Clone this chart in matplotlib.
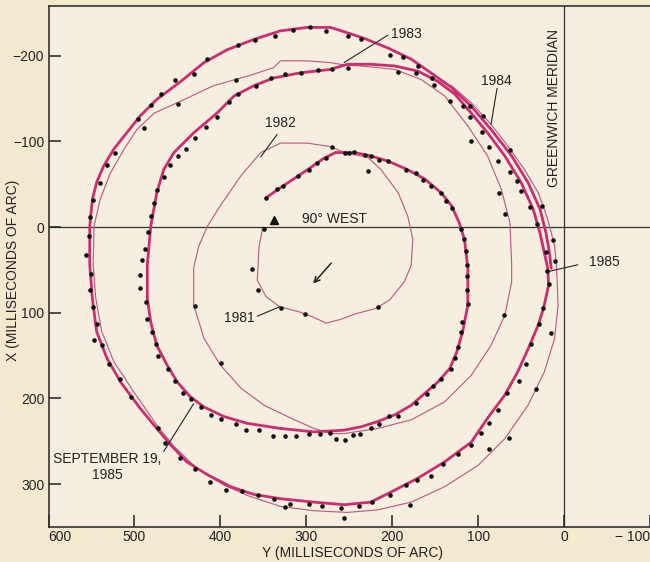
import matplotlib.pyplot as plt

# polar motion path, (Y, X) in milliseconds of arc
thin_path = [
    (351, 2), (355, 23), (357, 62), (347, 81), (331, 93), (308, 99), (292, 105),
    (277, 112), (261, 108), (242, 101), (219, 95), (203, 85), (186, 64), (178, 45),
    (176, 14), (182, -13), (193, -40), (213, -67), (228, -81), (256, -87),
    (272, -94), (299, -98), (330, -98), (353, -87), (376, -60), (400, -25),
    (415, -1), (425, 22), (431, 47), (431, 91), (419, 130), (400, 161), (376, 188),
    (349, 208), (318, 223), (291, 235), (272, 241), (256, 241), (217, 235),
    (178, 225), (139, 204), (108, 173), (85, 138), (69, 103), (61, 64), (61, 44),
    (63, -5), (73, -44), (89, -83), (112, -118), (139, -153), (166, -172),
    (197, -184), (236, -188), (255, -189), (272, -192), (300, -194), (330, -194),
    (338, -186), (369, -176), (408, -165), (446, -147), (477, -133), (497, -114),
    (512, -91), (528, -63), (540, -32), (547, -1), (548, 44), (545, 83), (538, 122),
    (524, 157), (501, 192), (474, 231), (454, 256), (427, 282), (396, 301),
    (369, 313), (330, 326), (291, 331), (252, 333), (217, 330), (178, 321),
    (139, 303), (100, 278), (69, 247), (42, 208), (23, 169), (11, 130), (7, 91),
    (8, 64), (9, 44), (11, 22), (19, -9), (30, -40), (46, -67), (65, -94),
    (85, -120), (108, -145), (131, -165),
]

thick_path = [
    (15, 48), (17, 30), (21, 7), (28, -21), (42, -52), (61, -83), (85, -114),
    (108, -141), (131, -163), (155, -180), (178, -196), (205, -209), (232, -220),
    (256, -228), (272, -233), (299, -233), (330, -229), (361, -219), (392, -207),
    (419, -192), (446, -170), (474, -149), (493, -130), (509, -110), (524, -91),
    (536, -71), (544, -52), (549, -32), (552, -1), (552, 44), (549, 83), (544, 122),
    (532, 153), (516, 181), (493, 212), (474, 235), (458, 254), (439, 274),
    (415, 289), (388, 303), (361, 312), (330, 317), (291, 321), (256, 324),
    (225, 321), (201, 309), (170, 293), (139, 274), (108, 251), (89, 223),
    (69, 196), (54, 169), (40, 138), (30, 114), (24, 95), (18, 68), (19, 48),
    (23, 30), (28, 7), (36, -21), (50, -52), (69, -83), (89, -110), (108, -133),
    (127, -155), (147, -170), (170, -182), (197, -188), (225, -190), (252, -190),
    (272, -184), (307, -180), (338, -174), (361, -165), (384, -153), (404, -133),
    (431, -110), (454, -87), (466, -67), (474, -40), (481, -1), (485, 44),
    (485, 83), (481, 111), (474, 138), (462, 161), (450, 181), (435, 198),
    (419, 210), (396, 221), (369, 229), (330, 235), (291, 239), (256, 237),
    (236, 233), (217, 227), (197, 219), (178, 208), (162, 194), (147, 181),
    (133, 165), (125, 146), (118, 122), (112, 91), (112, 48), (116, 14),
    (122, -5), (131, -25), (143, -40), (162, -56), (182, -67), (205, -77),
    (225, -83), (244, -87), (256, -87), (266, -87), (280, -80), (297, -68),
    (315, -56), (333, -44), (347, -34),
]

# individual observations
dots_outer = [
    (556, 32), (553, 10), (552, -12), (548, -32), (540, -52), (532, -73), (523, -87),
    (496, -126), (481, -142), (469, -155), (453, -172), (431, -179), (415, -196),
    (380, -212), (360, -218), (336, -223), (315, -230), (296, -234), (277, -229),
    (252, -223), (236, -220), (203, -201), (188, -198), (170, -188), (133, -147),
    (118, -141), (110, -141), (94, -130), (87, -94), (63, -90), (63, -64),
    (55, -54), (40, -23), (26, -25), (13, 15), (11, 40),
    (551, 55), (552, 73), (548, 93), (543, 113), (547, 132), (538, 138), (530, 160),
    (517, 177), (504, 198), (473, 234), (464, 252), (447, 269), (429, 282),
    (412, 297), (394, 307), (375, 308), (356, 313), (338, 317), (325, 327),
    (319, 323), (297, 323), (282, 326), (260, 328), (256, 340),
    (20, 51), (18, 66), (24, 95), (29, 113), (39, 137), (44, 160), (53, 180),
    (66, 194), (77, 214), (87, 229), (97, 240), (108, 254), (124, 265), (141, 277),
    (155, 290), (171, 295), (184, 301), (202, 313), (224, 321), (239, 326),
]
dots_middle = [
    (491, 38), (488, 25), (484, 6), (481, -13), (477, -28), (474, -43), (466, -58),
    (459, -72), (449, -83), (440, -91), (429, -104), (417, -117), (404, -129),
    (390, -146), (379, -155), (359, -165), (341, -174), (325, -179), (306, -180),
    (286, -183), (270, -185), (252, -186), (193, -181), (172, -180), (154, -174),
    (151, -166), (109, -128), (96, -111), (77, -77), (50, -42), (32, -4), (21, 29),
]
dots_inner = [
    (347, -34), (334, -45), (327, -48), (310, -60), (297, -67), (288, -75),
    (277, -81), (270, -93), (255, -87), (250, -87), (244, -88), (232, -84),
    (225, -83), (215, -78), (205, -77), (228, -65), (184, -67), (172, -63),
    (164, -55), (155, -48), (143, -40), (137, -30), (131, -22), (120, 2),
    (116, 14), (114, 28), (113, 44), (113, 57), (113, 73), (112, 90), (119, 111),
    (120, 123), (124, 140), (127, 153), (132, 166), (143, 177), (153, 186),
    (160, 195), (172, 205), (193, 220), (204, 221), (215, 230), (225, 234),
    (237, 242), (246, 243), (255, 248), (266, 247), (272, 240), (284, 242),
    (297, 242), (312, 244), (325, 244), (339, 244), (355, 237), (370, 237),
    (382, 230), (399, 224), (411, 219), (422, 210), (434, 201), (444, 194),
    (453, 180), (461, 166), (473, 151), (475, 137), (479, 122), (485, 107),
    (486, 88), (493, 71), (494, 56),
]
dots_thin = [
    (349, 2), (363, 49), (356, 74), (330, 95), (301, 101), (217, 93), (429, 92),
    (399, 159), (70, 103), (69, -15), (76, -40), (108, -100), (489, -116),
    (449, -144), (382, -172), (15, 124), (33, 189), (64, 246), (87, 259), (179, 324),
]
start_mark = [(337, -8)]

y_ticks = [600, 500, 400, 300, 200, 100, 0, -100]
y_labels = ['600', '500', '400', '300', '200', '100', '0', '\u2212 100']
x_ticks = [-200, -100, 0, 100, 200, 300]
x_labels = ['\u2212200', '\u2212100', '0', '100', '200', '300']

plt.rcParams['font.family'] = ['Liberation Sans', 'DejaVu Sans']
ink = '#222222'

fig = plt.figure(figsize=(6.5, 5.62), dpi=100)
fig.patch.set_facecolor('#f4e9cf')
ax = fig.add_axes([48.5 / 650, 1 - 527 / 562, 1 - 48.5 / 650, 521 / 562])
ax.set_facecolor('#f6efdf')

ax.axhline(0, color='#333333', lw=0.9, zorder=1)
ax.axvline(0, color='#333333', lw=0.9, zorder=1)

ty, tx = zip(*thin_path)
ax.plot(ty, tx, color='#bd5d86', lw=0.85, zorder=2)
ky, kx = zip(*thick_path)
ax.plot(ky, kx, color='#cc2d70', lw=2.0, solid_capstyle='round', zorder=3)

for group in (dots_outer, dots_middle, dots_inner, dots_thin):
    gy, gx = zip(*group)
    ax.plot(gy, gx, 'o', color='#111111', ms=3.3, mec='none', zorder=4)

sy, sx = zip(*start_mark)
ax.plot(sy, sx, '^', color='#111111', ms=5.5, zorder=4)

ax.set_xlim(600, -100)
ax.set_ylim(350, -258)

ax.set_xticks(y_ticks)
ax.set_xticklabels(y_labels)
ax.set_yticks(x_ticks)
ax.set_yticklabels(x_labels)
ax.tick_params(direction='in', length=8.5, width=1.1, colors=ink, labelsize=10)
ax.tick_params(axis='x', pad=2.5)
ax.tick_params(axis='y', pad=3)
xl = ax.get_xticklabels()
xl[0].set_ha('left')
xl[-1].set_ha('right')

for side in ('left', 'bottom', 'top'):
    ax.spines[side].set_linewidth(1.2)
    ax.spines[side].set_color('#333333')
ax.spines['right'].set_visible(False)

ax.set_xlabel('Y (MILLISECONDS OF ARC)', fontsize=10, color=ink)
ax.xaxis.set_label_coords(0.505, -0.036)
ax.set_ylabel('X (MILLISECONDS OF ARC)', fontsize=10, color=ink)
ax.yaxis.set_label_coords(-0.047, 0.493)

leader = dict(arrowstyle='-', lw=0.8, color=ink, shrinkA=0, shrinkB=0)
ax.annotate('', xy=(331, 93), xytext=(357, 104), arrowprops=leader)
ax.text(378, 106, '1981', fontsize=10, color=ink, ha='center', va='center')
ax.annotate('', xy=(353, -82), xytext=(334, -108), arrowprops=leader)
ax.text(330, -121, '1982', fontsize=10, color=ink, ha='center', va='center')
ax.annotate('', xy=(256, -192), xytext=(205, -224), arrowprops=leader)
ax.text(184, -225, '1983', fontsize=10, color=ink, ha='center', va='center')
ax.annotate('', xy=(85, -120), xytext=(78, -162), arrowprops=leader)
ax.text(79, -170, '1984', fontsize=10, color=ink, ha='center', va='center')
ax.annotate('', xy=(19, 52), xytext=(-16, 44), arrowprops=leader)
ax.text(-47, 41, '1985', fontsize=10, color=ink, ha='center', va='center')
ax.annotate('', xy=(431, 206), xytext=(466, 262), arrowprops=leader)
ax.text(532, 280, 'SEPTEMBER 19,\n1985', fontsize=10, color=ink,
        ha='center', va='center', linespacing=1.1)
ax.text(305, -9, '90\u00b0 WEST', fontsize=10, color=ink, ha='left', va='center')
ax.text(11.5, -139, 'GREENWICH MERIDIAN', fontsize=10, color=ink,
        rotation=90, ha='center', va='center')
ax.annotate('', xy=(292, 66), xytext=(271, 42),
            arrowprops=dict(arrowstyle='->', lw=1.1, color=ink,
                            shrinkA=0, shrinkB=0))

fig.savefig('out.png', dpi=100, facecolor=fig.get_facecolor())
plt.close(fig)
